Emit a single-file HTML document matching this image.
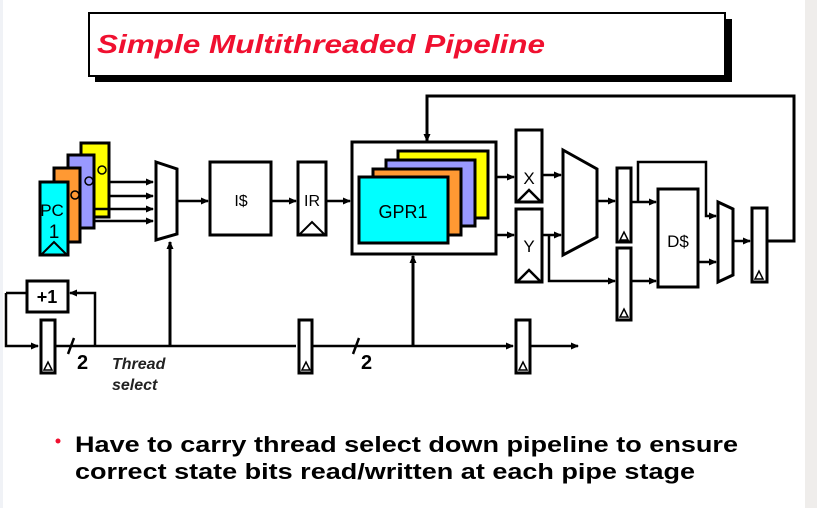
<!DOCTYPE html>
<html><head><meta charset="utf-8"><style>
html,body{margin:0;padding:0;background:#fff;}
svg{display:block;}
text{font-family:"Liberation Sans",Arial,sans-serif;}
</style></head><body>
<svg width="817" height="508" viewBox="0 0 817 508" xmlns="http://www.w3.org/2000/svg">
<defs>
<marker id="a" markerWidth="8" markerHeight="8" refX="7" refY="4" orient="auto" markerUnits="userSpaceOnUse"><path d="M0,0.5 L8,4 L0,7.5 z" fill="#000"/></marker>
</defs>
<rect x="805" y="0" width="12" height="508" fill="#efedeb"/>
<rect x="0" y="0" width="3" height="508" fill="#f0f2f6"/>
<!-- title -->
<rect x="95" y="19" width="637" height="63" fill="#000"/>
<rect x="89" y="13" width="636" height="63" fill="#fff" stroke="#000" stroke-width="2"/>
<text x="97" y="53" font-size="26" font-weight="bold" font-style="italic" fill="#f01030" textLength="448" lengthAdjust="spacingAndGlyphs">Simple Multithreaded Pipeline</text>

<g stroke="#000" stroke-width="3" fill="none">
<rect x="81" y="143" width="28" height="74" fill="#ffff00"/>
<rect x="68" y="155" width="26" height="73" fill="#9999ff"/>
<rect x="54" y="168" width="26" height="74" fill="#ff9933"/>
<rect x="40" y="182" width="28" height="73" fill="#00ffff"/>
<polyline points="42,254 54,242 66,254" stroke-width="2"/>
<circle cx="75" cy="195" r="4" stroke-width="1.5"/>
<circle cx="89" cy="181" r="4" stroke-width="1.5"/>
<circle cx="102" cy="170" r="4" stroke-width="1.5"/>
</g>
<g stroke="#000" stroke-width="2.5" fill="none">
<line x1="109" y1="182" x2="153" y2="182" marker-end="url(#a)"/>
<line x1="109" y1="196" x2="153" y2="196" marker-end="url(#a)"/>
<line x1="94" y1="209" x2="153" y2="209" marker-end="url(#a)"/>
<line x1="94" y1="221" x2="153" y2="221" marker-end="url(#a)"/>
<polygon points="156,162 177,169 177,234 156,240" stroke-width="3"/>
<line x1="177" y1="201" x2="208" y2="201" marker-end="url(#a)"/>
<rect x="210" y="162" width="61" height="73" stroke-width="3"/>
<line x1="271" y1="201" x2="296" y2="201" marker-end="url(#a)"/>
<rect x="298" y="162" width="28" height="73" stroke-width="3"/>
<polyline points="300,234 312,222 324,234" stroke-width="2"/>
<line x1="326" y1="201" x2="350" y2="201" marker-end="url(#a)"/>
<line x1="170" y1="346" x2="170" y2="242" marker-end="url(#a)" stroke-width="3"/>
<line x1="55" y1="346" x2="296" y2="346"/>
<polyline points="6,293 6,346 38,346" marker-end="url(#a)"/>
<line x1="6" y1="293" x2="27" y2="293"/>
<polyline points="95,346 95,293 70,293" marker-end="url(#a)"/>
<rect x="27" y="281" width="41" height="31" fill="#fff" stroke-width="3"/>
<rect x="41" y="320" width="14" height="53" fill="#fff" stroke-width="3"/>
<line x1="312" y1="346" x2="513" y2="346" marker-end="url(#a)"/>
<rect x="299" y="320" width="13" height="53" fill="#fff" stroke-width="3"/>
<line x1="530" y1="346" x2="578" y2="346" marker-end="url(#a)"/>
<rect x="516" y="320" width="14" height="53" fill="#fff" stroke-width="3"/>
<line x1="68" y1="354" x2="74" y2="338"/>
<line x1="353" y1="354" x2="359" y2="338"/>
<line x1="413" y1="346" x2="413" y2="256" marker-end="url(#a)" stroke-width="3"/>
<rect x="352" y="142" width="144" height="112" stroke-width="3"/>
<polyline points="427,142 427,96 794,96 794,241 767,241" stroke-width="3"/>
<line x1="427" y1="110" x2="427" y2="141" marker-end="url(#a)" stroke-width="3"/>
</g>
<g stroke="#000" stroke-width="3">
<rect x="398" y="151" width="90" height="67" fill="#ffff00"/>
<rect x="386" y="160" width="89" height="66" fill="#9999ff"/>
<rect x="373" y="169" width="88" height="66" fill="#ff9933"/>
<rect x="359" y="177" width="89" height="66" fill="#00ffff"/>
</g>
<g stroke="#000" stroke-width="2.5" fill="none">
<line x1="496" y1="177" x2="514" y2="177" marker-end="url(#a)"/>
<line x1="496" y1="235" x2="514" y2="235" marker-end="url(#a)"/>
<rect x="516" y="130" width="26" height="72" stroke-width="3"/>
<polyline points="518,201 529,190 540,201" stroke-width="2.5"/>
<rect x="516" y="209" width="26" height="73" stroke-width="3"/>
<polyline points="518,281 529,270 540,281" stroke-width="2.5"/>
<line x1="542" y1="175" x2="561" y2="175" marker-end="url(#a)"/>
<line x1="542" y1="235" x2="561" y2="235" marker-end="url(#a)"/>
<polyline points="549,235 549,281 615,281" marker-end="url(#a)"/>
<polygon points="563,150 597,169 597,237 563,255" stroke-width="3"/>
<line x1="597" y1="201" x2="615" y2="201" marker-end="url(#a)"/>
<rect x="617" y="168" width="14" height="74" fill="#fff" stroke-width="3"/>
<rect x="617" y="248" width="14" height="72" fill="#fff" stroke-width="3"/>
<line x1="631" y1="202" x2="656" y2="202" marker-end="url(#a)"/>
<line x1="631" y1="281" x2="656" y2="281" marker-end="url(#a)"/>
<polyline points="638,202 638,162 706,162 706,216 716,216" marker-end="url(#a)"/>
<rect x="658" y="189" width="40" height="98" stroke-width="3"/>
<line x1="698" y1="262" x2="716" y2="262" marker-end="url(#a)"/>
<polygon points="718,202 733,209 733,275 718,282" stroke-width="3"/>
<line x1="733" y1="241" x2="750" y2="241" marker-end="url(#a)"/>
<rect x="752" y="208" width="15" height="74" fill="#fff" stroke-width="3"/>
</g>
<g fill="#fff" stroke="#000" stroke-width="1.5">
<polygon points="44,370 48,362 52,370"/>
<polygon points="302,370 306,362 310,370"/>
<polygon points="519,370 523,362 527,370"/>
<polygon points="620,240 624,232 628,240"/>
<polygon points="620,317 624,309 628,317"/>
<polygon points="755,279 759,271 763,279"/>
</g>
<g font-size="16" fill="#000" text-anchor="middle">
<text x="52" y="216" font-size="17">PC</text>
<text x="54" y="238" font-size="19">1</text>
<text x="241" y="206">I$</text>
<text x="312" y="206">IR</text>
<text x="403" y="218" font-size="18">GPR1</text>
<text x="529" y="184" font-size="17">X</text>
<text x="529" y="252" font-size="17">Y</text>
<text x="678" y="247" font-size="17">D$</text>
<text x="47" y="303" font-size="18" font-weight="bold">+1</text>
</g>
<text x="77" y="369" font-size="20" font-weight="bold">2</text>
<text x="361" y="369" font-size="20" font-weight="bold">2</text>
<text x="112" y="369" font-size="16" font-weight="bold" font-style="italic" fill="#222">Thread</text>
<text x="112" y="390" font-size="16" font-weight="bold" font-style="italic" fill="#222">select</text>
<circle cx="58" cy="441" r="2.5" fill="#f01030"/>
<text x="75" y="452" font-size="22" font-weight="bold" fill="#000" textLength="663" lengthAdjust="spacingAndGlyphs">Have to carry thread select down pipeline to ensure</text>
<text x="75" y="479" font-size="22" font-weight="bold" fill="#000" textLength="620" lengthAdjust="spacingAndGlyphs">correct state bits read/written at each pipe stage</text>
</svg>
</body></html>
